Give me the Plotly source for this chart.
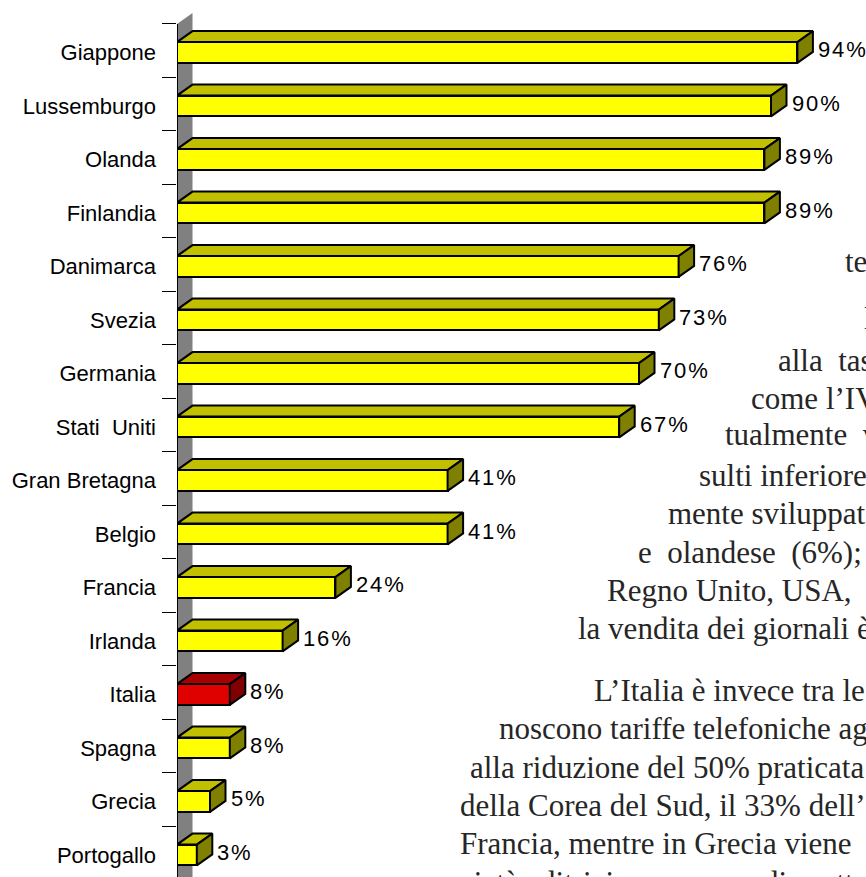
import plotly.graph_objects as go

# Share of households (%) per country
countries = ["Giappone", "Lussemburgo", "Olanda", "Finlandia", "Danimarca", "Svezia",
             "Germania", "Stati  Uniti", "Gran Bretagna", "Belgio", "Francia", "Irlanda",
             "Italia", "Spagna", "Grecia", "Portogallo"]
values = [94, 90, 89, 89, 76, 73, 70, 67, 41, 41, 24, 16, 8, 8, 5, 3]
highlight = "Italia"

# Body text of the page running beside the chart
page_lines = [
    "te", "l", "alla\u00a0\u00a0tas", "come l\u2019IV", "tualmente\u00a0\u00a0v",
    "sulti inferiore,", "mente sviluppat", "e\u00a0\u00a0olandese\u00a0\u00a0(6%);",
    "Regno Unito, USA,", "la vendita dei giornali \u00e8",
    "L\u2019Italia \u00e8 invece tra le", "noscono tariffe telefoniche ag",
    "alla riduzione del 50% praticata", "della Corea del Sud, il 33% dell\u2019",
    "Francia, mentre in Grecia viene", "ciet\u00e0 editrici un numero di scott",
]
page_pos = [(843, 262), (862, 318), (776, 360), (749, 398), (723, 435), (697, 475),
            (666, 513), (636, 552), (605, 590), (576, 628), (592, 690), (497, 728),
            (468, 767), (458, 805), (458, 843), (458, 882)]

W, H = 866, 877
ML = 177
PX_PER_UNIT = 6.6          # horizontal scale, px per percentage point
ROW_PX = 53.5              # vertical pitch of the rows
FIRST_ROW_PX = 52.5        # centre of the first row from top
x_range = [0, (W - ML) / PX_PER_UNIT]
y_range = [(H - FIRST_ROW_PX) / ROW_PX, -FIRST_ROW_PX / ROW_PX]

BAR_W = 0.39
DX = 15.5 / PX_PER_UNIT    # depth offset, x
DY = 11 / ROW_PX           # depth offset, y (upwards)

YELLOW = dict(front="#FFFF00", top="#C0C000", side="#808000")
RED = dict(front="#DF0000", top="#A80000", side="#800000")

pos = list(range(len(countries)))
fig = go.Figure()

fig.add_trace(go.Bar(
    x=values, y=pos, base=0, orientation="h", width=BAR_W,
    marker=dict(color=[(RED if c == highlight else YELLOW)["front"] for c in countries],
                line=dict(color="black", width=2)),
    hoverinfo="skip", showlegend=False,
))


def faces(keep):
    tx, ty, sx, sy = [], [], [], []
    for i, (c, v) in enumerate(zip(countries, values)):
        if not keep(c):
            continue
        top = i - BAR_W / 2
        bot = i + BAR_W / 2
        tx += [0, DX, v + DX, v, 0, None]
        ty += [top, top - DY, top - DY, top, top, None]
        sx += [v, v + DX, v + DX, v, v, None]
        sy += [top, top - DY, bot - DY, bot, top, None]
    return tx, ty, sx, sy


for keep, pal in [(lambda c: c != highlight, YELLOW), (lambda c: c == highlight, RED)]:
    tx, ty, sx, sy = faces(keep)
    fig.add_trace(go.Scatter(x=tx, y=ty, mode="lines", fill="toself", fillcolor=pal["top"],
                             line=dict(color="black", width=2), hoverinfo="skip", showlegend=False))
    fig.add_trace(go.Scatter(x=sx, y=sy, mode="lines", fill="toself", fillcolor=pal["side"],
                             line=dict(color="black", width=2), hoverinfo="skip", showlegend=False))

# grey side wall and the category axis line
wall_top = -0.533
wall_bot = y_range[0] + 0.2
shapes = [
    dict(type="path", xref="x", yref="y", layer="below",
         path=f"M 0 {wall_top} L {DX} {wall_top - DY} L {DX} {wall_bot - DY} L 0 {wall_bot} Z",
         fillcolor="#808080", line=dict(width=0)),
    dict(type="line", xref="x", yref="y", layer="below", x0=0, x1=0, y0=wall_top, y1=wall_bot,
         line=dict(color="black", width=2)),
]

annotations = []
for i, v in enumerate(values):
    annotations.append(dict(
        x=v + DX, y=i, xref="x", yref="y", xanchor="left", yanchor="middle",
        text="\u200a".join(f"{v}%"), showarrow=False, xshift=3, yshift=3,
        font=dict(family="Liberation Sans, Arial", size=22, color="black")))

for txt, (px, py) in zip(page_lines, page_pos):
    annotations.append(dict(
        x=(px - ML) / (W - ML), y=1 - py / H, xref="paper", yref="paper",
        xanchor="left", yanchor="middle", text=txt, showarrow=False,
        font=dict(family="Liberation Serif, Times New Roman", size=31, color="#262626")))

fig.update_layout(
    width=W, height=H, margin=dict(l=ML, r=0, t=0, b=0),
    paper_bgcolor="white", plot_bgcolor="white",
    shapes=shapes, annotations=annotations, bargap=0,
    xaxis=dict(range=x_range, visible=False, fixedrange=True),
    yaxis=dict(range=y_range, tickmode="array", tickvals=pos, ticktext=countries,
               ticks="", showgrid=False, zeroline=False, showline=False,
               ticklabelstandoff=20, automargin=False,
               tickfont=dict(family="Liberation Sans, Arial", size=22, color="black"),
               minor=dict(tickmode="array", tickvals=[i - 0.533 for i in range(len(countries) + 1)],
                          ticks="outside", ticklen=14, tickcolor="black", tickwidth=1,
                          showgrid=False)),
)

fig.write_html("out.html")
